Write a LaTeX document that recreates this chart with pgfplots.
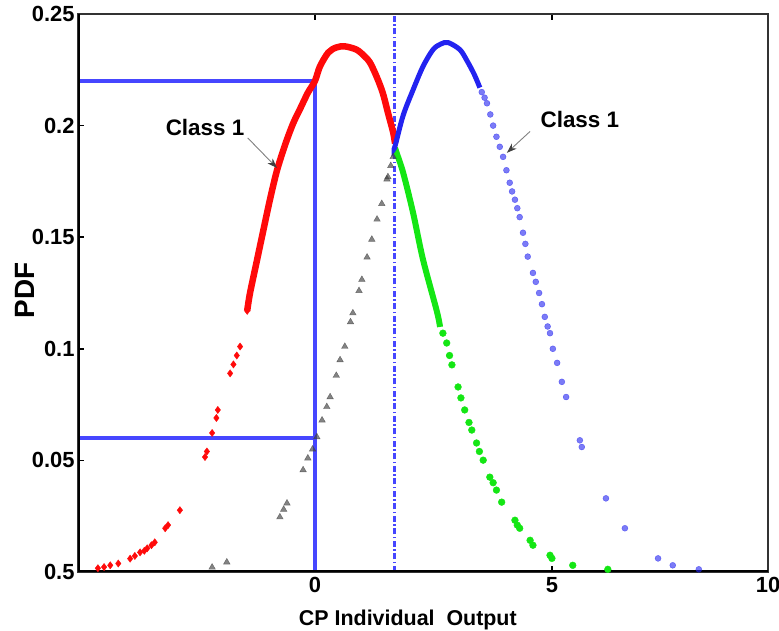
\documentclass[border=0pt]{standalone}
\usepackage{pgfplots}
\pgfplotsset{compat=1.18}
\usepackage{fontspec}
\setmainfont{Liberation Sans}
\usetikzlibrary{arrows.meta}
\definecolor{lblue}{RGB}{70,70,255}
\definecolor{pblue}{RGB}{35,35,240}
\definecolor{pgreen}{RGB}{20,230,20}
\definecolor{pred}{RGB}{255,10,10}
\begin{document}
\begin{tikzpicture}
\path[use as bounding box] (0,0) rectangle (779bp,631bp);
\begin{axis}[at={(78bp,59bp)}, anchor=south west, scale only axis,
  width=690bp, height=558bp,
  xmin=-5, xmax=9.56, ymin=0, ymax=0.25,
  xtick={0,5,9.56}, xticklabels={0,5,10},
  ytick={0,0.05,0.1,0.15,0.2,0.25}, yticklabels={0.5,0.05,0.1,0.15,0.2,0.25},
  tick align=inside, ytick pos=left,
  major tick length=6bp,
  tick style={black, line width=1.5bp},
  axis line style={black!80, line width=1.5bp},
  ticklabel style={font=\bfseries\fontsize{22}{24}\selectfont},
  xticklabel style={yshift=-2bp},
  /pgf/number format/assume math mode=true,
  xlabel={CP Individual\ \ Output}, ylabel={PDF},
  xlabel style={font=\bfseries\fontsize{21.5}{24}\selectfont, at={(axis description cs:0.478,-0.0866)}, anchor=center},
  ylabel style={font=\bfseries\fontsize{28}{30}\selectfont, at={(axis description cs:-0.0768,0.505)}, anchor=center, rotate=0},
]
% guide lines
\addplot[lblue, line width=3.2bp] coordinates {(-5,0.22) (0,0.22) (0,0)};
\addplot[lblue, line width=3.2bp] coordinates {(-5,0.06) (0,0.06)};
\addplot[lblue, line width=3bp, dash pattern=on 6bp off 2.5bp on 1.5bp off 2.5bp] coordinates {(1.67,0) (1.67,0.25)};
% gray (class 2 left tail)
\addplot[only marks, mark=triangle*, mark size=3.8bp, color=black!75, opacity=0.65] coordinates {
(1.65,0.186) (1.60,0.182) (1.54,0.177) (1.52,0.176) (1.41,0.165) (1.31,0.158) (1.20,0.149)
(1.10,0.141) (0.99,0.131) (0.93,0.126) (0.80,0.116) (0.75,0.112) (0.63,0.101) (0.53,0.095)
(0.45,0.088) (0.32,0.0784) (0.25,0.074) (0.15,0.068) (0.04,0.0605) (-0.05,0.055) (-0.15,0.051)
(-0.25,0.0457) (-0.59,0.0308) (-0.66,0.028) (-0.74,0.0246) (-1.86,0.0044) (-2.17,0.0021)};
% red dense
\addplot[pred, line width=6.5bp, smooth] coordinates {
(-1.43,0.117) (-1.37,0.125) (-1.23,0.139) (-1.10,0.152) (-0.95,0.1668) (-0.80,0.1800)
(-0.62,0.1920) (-0.46,0.2010) (-0.32,0.2072) (-0.15,0.2147) (0,0.22) (0.105,0.2265)
(0.28,0.2327) (0.45,0.2350) (0.63,0.2355) (0.88,0.234) (1.05,0.231) (1.16,0.2283)
(1.30,0.222) (1.43,0.2147) (1.55,0.205) (1.65,0.197) (1.69,0.192)};
% red tail
\addplot[only marks, mark=diamond*, mark size=3.6bp, color=pred] coordinates {
(-4.58,0.0017) (-4.45,0.0022) (-4.32,0.003) (-4.15,0.0038) (-3.90,0.006) (-3.80,0.0072)
(-3.69,0.0088) (-3.60,0.0095) (-3.54,0.0106) (-3.45,0.012) (-3.38,0.0133) (-3.16,0.0196)
(-3.10,0.021) (-2.85,0.0277) (-2.32,0.0515) (-2.28,0.054) (-2.17,0.0623) (-2.05,0.0726)
(-2.08,0.069) (-1.79,0.089) (-1.72,0.093) (-1.65,0.097) (-1.58,0.101) (-1.43,0.117) (-1.37,0.125)};
% green dense
\addplot[pgreen, line width=6bp, smooth] coordinates {
(1.69,0.19) (1.72,0.188) (1.86,0.179) (2.07,0.161) (2.28,0.140) (2.57,0.117) (2.64,0.1098)};
\addplot[only marks, mark=*, mark size=3.4bp, color=pgreen] coordinates {
(2.70,0.107) (2.78,0.1026) (2.84,0.097) (2.89,0.0928) (3.02,0.0829) (3.08,0.078) (3.16,0.0726)
(3.25,0.067) (3.31,0.0636) (3.41,0.0578) (3.47,0.054) (3.55,0.0501) (3.69,0.0425) (3.76,0.040)
(3.83,0.0367) (3.94,0.0313) (4.22,0.0232) (4.27,0.021) (4.32,0.0196) (4.54,0.0142) (4.60,0.012)
(4.96,0.0075) (5.0,0.0061) (5.44,0.003) (6.18,0.0012)};
% blue dense
\addplot[pblue, line width=5bp, smooth] coordinates {
(1.67,0.19) (1.69,0.1908) (1.86,0.2045) (2.07,0.216) (2.28,0.2265) (2.49,0.234) (2.65,0.2365)
(2.81,0.2372) (3.06,0.234) (3.21,0.229) (3.36,0.223) (3.48,0.217)};
\addplot[only marks, mark=*, mark size=3bp, color=pblue, opacity=0.6] coordinates {
(3.52,0.2150) (3.58,0.2125) (3.63,0.2100) (3.70,0.2050) (3.76,0.2000) (3.83,0.1950) (3.90,0.1905)
(3.97,0.1860) (4.04,0.1800) (4.11,0.1744) (4.16,0.1705) (4.22,0.1668) (4.27,0.1630) (4.32,0.1590)
(4.39,0.1520) (4.44,0.1470) (4.49,0.1413) (4.60,0.1340) (4.66,0.1300) (4.73,0.1250) (4.79,0.1200)
(4.85,0.1143) (4.91,0.1100) (4.96,0.1070) (5.02,0.1000) (5.11,0.0937) (5.21,0.0852) (5.30,0.0784)
(5.59,0.059) (5.63,0.056) (6.14,0.033) (6.54,0.0196) (7.24,0.0061) (7.55,0.003) (8.10,0.0012)};
% annotations
\node[font=\bfseries\fontsize{22.5}{24}\selectfont] at (axis cs:-2.32,0.199) {Class 1};
\node[font=\bfseries\fontsize{22.5}{24}\selectfont] at (axis cs:5.59,0.2027) {Class 1};
\draw[black!50, line width=0.9bp, -{Stealth[length=10bp,width=7bp,color=black!75]}] (axis cs:-1.42,0.1945) -- (axis cs:-0.80,0.181);
\draw[black!50, line width=0.9bp, -{Stealth[length=10bp,width=7bp,color=black!75]}] (axis cs:4.54,0.1974) -- (axis cs:4.05,0.1878);
\draw[black, line width=3bp] (rel axis cs:0,1) -- (rel axis cs:0,0) -- (rel axis cs:1,0);
\end{axis}
\end{tikzpicture}
\end{document}
